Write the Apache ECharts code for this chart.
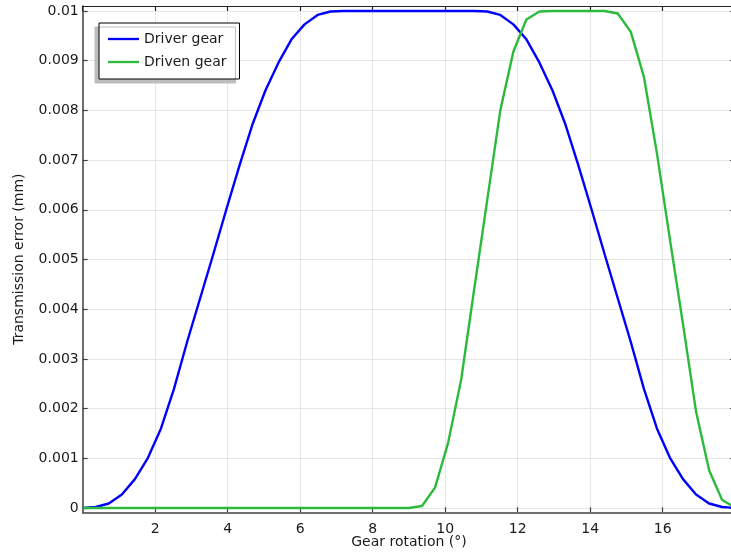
<!DOCTYPE html>
<html>
<head>
<meta charset="utf-8">
<script src="https://cdn.jsdelivr.net/npm/echarts@6/dist/echarts.min.js"></script>
<style>
html,body{margin:0;padding:0;background:#fff;}
#chart{width:731px;height:553px;}
</style>
</head>
<body>
<div id="chart"></div>
<script>
// Gear rotation (deg), sample points
const rotation = [0, 0.36, 0.72, 1.08, 1.44, 1.80, 2.16, 2.52, 2.88, 3.24,
  3.60, 3.96, 4.32, 4.68, 5.04, 5.40, 5.76, 6.12, 6.48, 6.84,
  7.20, 7.56, 7.92, 8.28, 8.64, 9.00, 9.36, 9.72, 10.08, 10.44,
  10.80, 11.16, 11.52, 11.88, 12.24, 12.60, 12.96, 13.32, 13.68, 14.04,
  14.40, 14.76, 15.12, 15.48, 15.84, 16.20, 16.56, 16.92, 17.28, 17.64, 18.00];

const driverGear = [0, 0.00002, 0.00009, 0.00027, 0.00058, 0.00101, 0.00160, 0.00240, 0.00334, 0.00422,
  0.00510, 0.00600, 0.00688, 0.00771, 0.00840, 0.00896, 0.00943, 0.00973, 0.00992, 0.00999,
  0.01, 0.01, 0.01, 0.01, 0.01, 0.01, 0.01, 0.01, 0.01, 0.01,
  0.01, 0.00999, 0.00992, 0.00973, 0.00943, 0.00896, 0.00840, 0.00771, 0.00688, 0.00600,
  0.00510, 0.00422, 0.00334, 0.00240, 0.00160, 0.00101, 0.00058, 0.00027, 0.00009, 0.00002, 0];

const drivenGear = [0, 0, 0, 0, 0, 0, 0, 0, 0, 0,
  0, 0, 0, 0, 0, 0, 0, 0, 0, 0,
  0, 0, 0, 0, 0, 0, 0.00004, 0.00041, 0.00131, 0.00258,
  0.00440, 0.00620, 0.00800, 0.00918, 0.00983, 0.00999, 0.01, 0.01, 0.01, 0.01,
  0.01, 0.00995, 0.00958, 0.00868, 0.00714, 0.00540, 0.00370, 0.00194, 0.00076, 0.00016, 0.00001];

const yTicks = [0, 0.001, 0.002, 0.003, 0.004, 0.005, 0.006, 0.007, 0.008, 0.009, 0.01];
const seriesNames = ['Driver gear', 'Driven gear'];

const chart = echarts.init(document.getElementById('chart'), null, {renderer: 'canvas'});
const font = 'DejaVu Sans';
const axisColor = '#404040';
const yMin = -0.000087, yMax = 0.0101;

const option = {
  animation: false,
  backgroundColor: '#ffffff',
  grid: {left: 82.7, right: -4.2, top: 6, bottom: 40.7, containLabel: false, outerBoundsMode: 'none'},
  legend: {
    orient: 'vertical',
    left: 99, top: 23,
    padding: [9, 13, 10, 9],
    itemGap: 9,
    icon: 'rect',
    itemWidth: 31, itemHeight: 2.3,
    backgroundColor: '#ffffff',
    borderColor: '#000000', borderWidth: 1,
    shadowColor: '#bdbdbd', shadowBlur: 0, shadowOffsetX: -4, shadowOffsetY: 4,
    textStyle: {fontFamily: font, fontSize: 14, color: '#1a1a1a'},
    data: seriesNames
  },
  xAxis: [{
    type: 'value', min: 0, max: 18, interval: 2, position: 'bottom',
    name: 'Gear rotation (°)', nameLocation: 'middle', nameGap: 23, nameMoveOverlap: false,
    nameTextStyle: {fontFamily: font, fontSize: 14, color: '#1a1a1a'},
    axisLine: {show: true, onZero: false, lineStyle: {color: axisColor, width: 1.5}},
    axisTick: {show: true, inside: true, length: 5, lineStyle: {color: axisColor, width: 1.2}},
    axisLabel: {showMinLabel: false, showMaxLabel: false, margin: 10, fontFamily: font, fontSize: 14, color: '#1a1a1a'},
    splitLine: {show: true, lineStyle: {color: '#e6e6e6', width: 1}}
  }, {
    type: 'value', min: 0, max: 18, interval: 2, position: 'top',
    axisLine: {show: true, onZero: false, lineStyle: {color: '#222', width: 1.2}},
    axisTick: {show: true, inside: true, length: 5, lineStyle: {color: '#222', width: 1.2}},
    axisLabel: {show: false},
    splitLine: {show: false}
  }],
  yAxis: [{
    type: 'value', min: yMin, max: yMax, position: 'left',
    name: 'Transmission error (mm)', nameLocation: 'middle', nameGap: 56, nameMoveOverlap: false,
    nameTextStyle: {fontFamily: font, fontSize: 14, color: '#1a1a1a'},
    axisLine: {show: true, onZero: false, lineStyle: {color: axisColor, width: 1.5}},
    axisTick: {show: true, inside: true, length: 5, customValues: yTicks, lineStyle: {color: axisColor, width: 1.2}},
    axisLabel: {customValues: yTicks, margin: 4, fontFamily: font, fontSize: 14, color: '#1a1a1a',
      formatter: function (v) { return String(v); }},
    splitLine: {show: true, customValues: yTicks, lineStyle: {color: '#e6e6e6', width: 1}}
  }, {
    type: 'value', min: yMin, max: yMax, position: 'right',
    axisLine: {show: true, onZero: false, lineStyle: {color: '#222', width: 1.2}},
    axisTick: {show: true, inside: true, length: 5, customValues: yTicks, lineStyle: {color: '#222', width: 1.2}},
    axisLabel: {show: false},
    splitLine: {show: false}
  }],
  series: [{
    name: seriesNames[0], type: 'line', symbol: 'none', xAxisIndex: 0, yAxisIndex: 0,
    lineStyle: {color: '#0000ff', width: 2.4}, itemStyle: {color: '#0000ff'},
    data: rotation.map((x, i) => [x, driverGear[i]]), z: 3
  }, {
    name: seriesNames[1], type: 'line', symbol: 'none', xAxisIndex: 0, yAxisIndex: 0,
    lineStyle: {color: '#2cba3c', width: 2.4}, itemStyle: {color: '#2cba3c'},
    data: rotation.map((x, i) => [x, drivenGear[i]]), z: 4
  }]
};
chart.setOption(option);
</script>
</body>
</html>
